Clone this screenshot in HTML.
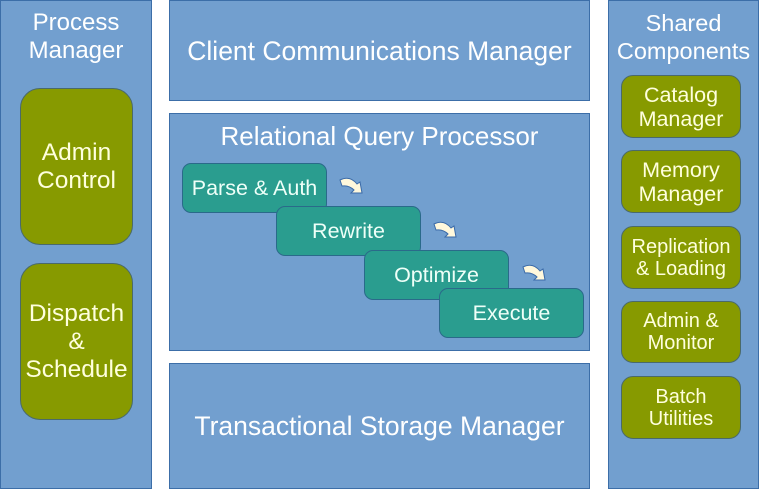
<!DOCTYPE html>
<html><head><style>
body{margin:0;width:759px;height:489px;background:#fff;position:relative;overflow:hidden;font-family:"Liberation Sans",sans-serif;}
.b{position:absolute;background:#729fcf;border:1px solid #3c6ea8;box-sizing:border-box;color:#fff;text-align:center;}
.o{position:absolute;background:#879a00;border:1px solid #4a6a6a;box-sizing:border-box;color:#ffffdd;display:flex;align-items:center;justify-content:center;text-align:center;}
.t{position:absolute;background:#2a9d8f;border:1px solid #2a6a8a;box-sizing:border-box;color:#eefff8;display:flex;align-items:center;justify-content:center;border-radius:9px;font-size:21.5px;height:50px;width:145px;}
.a{position:absolute;}
</style></head><body>
<div class="b" style="left:0;top:0;width:152px;height:489px;font-size:24px;line-height:28px;padding-top:8px;">Process<br>Manager</div>
<div class="o" style="left:20px;top:88px;width:113px;height:157px;border-radius:20px;font-size:24.5px;line-height:28px;">Admin<br>Control</div>
<div class="o" style="left:20px;top:263px;width:113px;height:157px;border-radius:20px;font-size:24.5px;line-height:28px;">Dispatch<br>&amp;<br>Schedule</div>

<div class="b" style="left:169px;top:0;width:421px;height:101px;font-size:26.5px;line-height:101px;">Client Communications Manager</div>
<div class="b" style="left:169px;top:113px;width:421px;height:238px;font-size:26px;padding-top:7px;">Relational Query Processor</div>
<div class="b" style="left:169px;top:363px;width:421px;height:126px;font-size:26.5px;line-height:124px;">Transactional Storage Manager</div>

<div class="t" style="left:182px;top:163px;">Parse &amp; Auth</div>
<div class="t" style="left:276px;top:206px;">Rewrite</div>
<div class="t" style="left:364px;top:250px;">Optimize</div>
<div class="t" style="left:439px;top:288px;">Execute</div>
<svg class="a" style="left:0;top:0" width="759" height="489">
<g fill="#fff8dc" stroke="#3a6aa8" stroke-width="1">
<path d="M340,180 q10,-5 17,4 l3,-2 l2,11 l-11,0 l3,-3 q-5,-5 -12,-4 z"/>
<path d="M434,224 q10,-5 17,4 l3,-2 l2,11 l-11,0 l3,-3 q-5,-5 -12,-4 z"/>
<path d="M523,267 q10,-5 17,4 l3,-2 l2,11 l-11,0 l3,-3 q-5,-5 -12,-4 z"/>
</g></svg>

<div class="b" style="left:608px;top:0;width:151px;height:489px;font-size:23.5px;line-height:28px;padding-top:8px;">Shared<br>Components</div>
<div class="o" style="left:621px;top:75px;width:120px;height:63px;border-radius:12px;font-size:21.5px;line-height:24px;">Catalog<br>Manager</div>
<div class="o" style="left:621px;top:150px;width:120px;height:63px;border-radius:12px;font-size:21.5px;line-height:24px;">Memory<br>Manager</div>
<div class="o" style="left:621px;top:226px;width:120px;height:63px;border-radius:12px;font-size:20px;line-height:22px;">Replication<br>&amp; Loading</div>
<div class="o" style="left:621px;top:301px;width:120px;height:62px;border-radius:12px;font-size:20px;line-height:22px;">Admin &amp;<br>Monitor</div>
<div class="o" style="left:621px;top:376px;width:120px;height:63px;border-radius:12px;font-size:20px;line-height:22px;">Batch<br>Utilities</div>
</body></html>
